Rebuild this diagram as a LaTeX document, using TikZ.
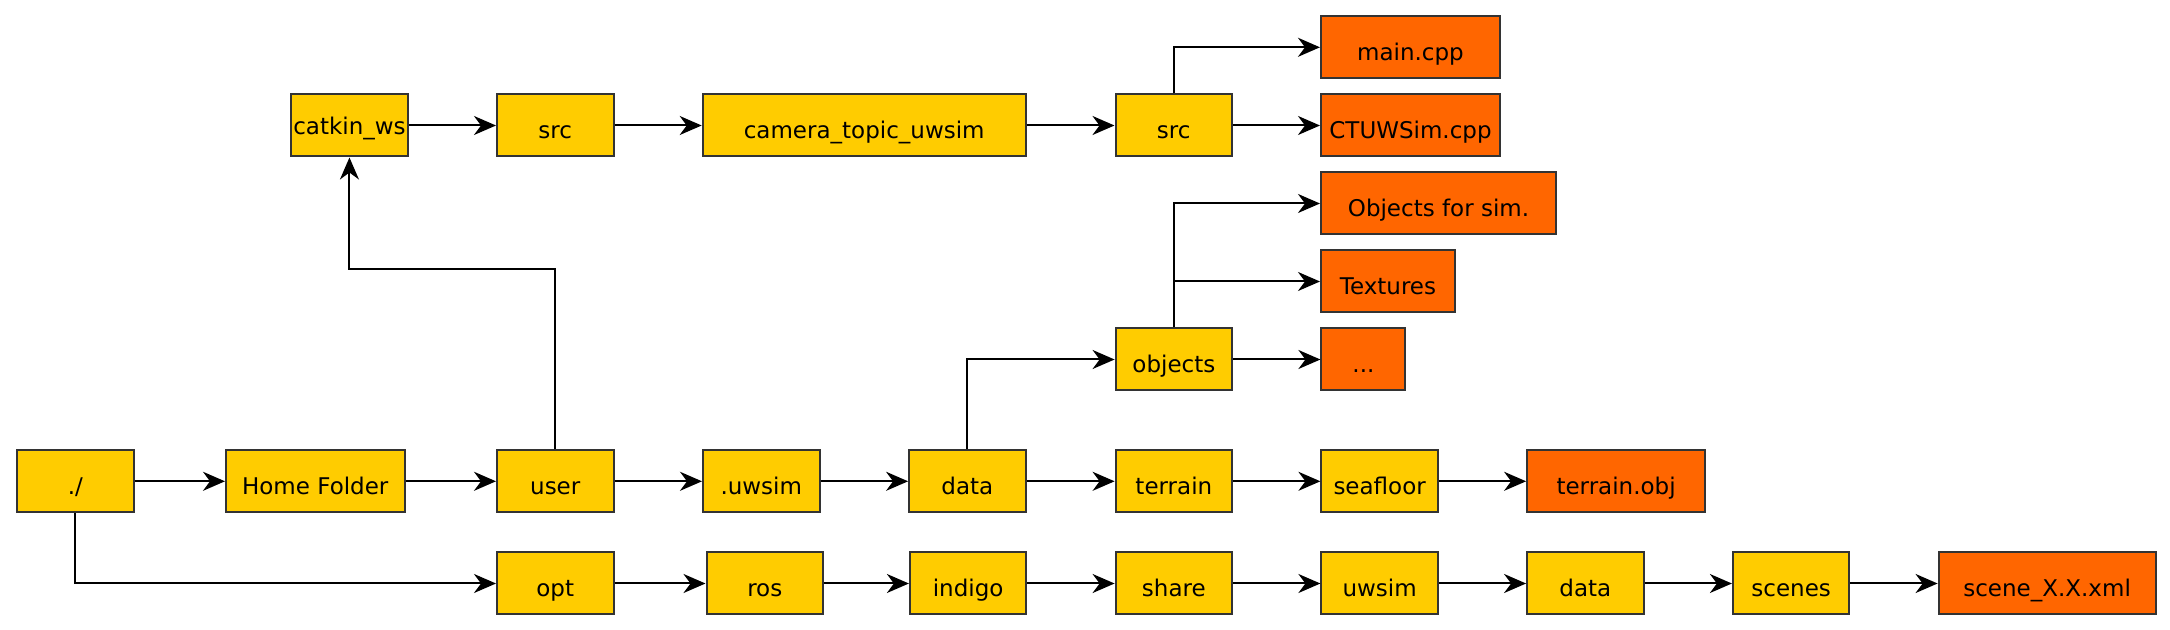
\documentclass[tikz,border=0pt]{standalone}
\usepackage{fontspec}
\setmainfont{DejaVu Sans}
\usetikzlibrary{arrows.meta}

\definecolor{dirfill}{HTML}{FFCC00}
\definecolor{filefill}{HTML}{FF6600}

\begin{document}
\begin{tikzpicture}[x=0.5pt,y=-0.5pt,
    box/.style={draw=black!80,line width=1pt,anchor=west,minimum height=31pt,
      minimum width=58.25pt,inner sep=1pt,text height=13pt,text depth=0pt,
      font=\fontsize{11.5}{13}\selectfont},
    dir/.style={box,fill=dirfill},
    file/.style={box,fill=filefill},
    arr/.style={line width=1pt,-{Stealth[length=11pt,width=9.5pt,inset=3.5pt]}}]
    \useasboundingbox (0,0) rectangle (2170,630);

    % Home folder row
    \node[dir] (root) at (16.1,481.3) {./};
    \node[dir,minimum width=89.25pt] (home) at (225,481.3) {Home Folder};
    \node[dir] (user) at (496,481.3) {user};
    \node[dir] (uwsimdir) at (702,481.3) {.uwsim};
    \node[dir] (datadir) at (908.1,481.3) {data};
    \node[dir] (terrain) at (1114.6,481.3) {terrain};
    \node[dir] (seafloor) at (1320.4,481.3) {seafloor};
    \node[file,minimum width=89pt] (terrainobj) at (1526.1,481.3) {terrain.obj};
    \draw[arr] (root) -- (home);
    \draw[arr] (home) -- (user);
    \draw[arr] (user) -- (uwsimdir);
    \draw[arr] (uwsimdir) -- (datadir);
    \draw[arr] (datadir) -- (terrain);
    \draw[arr] (terrain) -- (seafloor);
    \draw[arr] (seafloor) -- (terrainobj);

    % opt row
    \node[dir] (opt) at (496,583.5) {opt};
    \node[dir] (ros) at (705.5,583.5) {ros};
    \node[dir] (indigo) at (908.9,583.5) {indigo};
    \node[dir] (share) at (1114.6,583.5) {share};
    \node[dir] (uwsimpkg) at (1320.4,583.5) {uwsim};
    \node[dir] (datapkg) at (1526.1,583.5) {data};
    \node[dir] (scenes) at (1731.9,583.5) {scenes};
    \node[file,minimum width=108.5pt] (scenexml) at (1937.6,583.5) {scene\_X.X.xml};
    \draw[arr] (root.south) |- (opt.west);
    \draw[arr] (opt) -- (ros);
    \draw[arr] (ros) -- (indigo);
    \draw[arr] (indigo) -- (share);
    \draw[arr] (share) -- (uwsimpkg);
    \draw[arr] (uwsimpkg) -- (datapkg);
    \draw[arr] (datapkg) -- (scenes);
    \draw[arr] (scenes) -- (scenexml);

    % catkin workspace row
    \node[dir,text height=9pt] (catkin) at (290.2,125.5) {catkin\_ws};
    \node[dir] (srcws) at (496,125.5) {src};
    \node[dir,minimum width=161.5pt] (camtopic) at (701.7,125.5) {camera\_topic\_uwsim};
    \node[dir] (srcpkg) at (1114.5,125.5) {src};
    \node[file,minimum width=89.5pt] (maincpp) at (1320,47.3) {main.cpp};
    \node[file,minimum width=89.5pt] (ctuwsim) at (1320,125.5) {CTUWSim.cpp};
    \draw[arr] (user.north) -- ++(0,-180) -| (catkin.south);
    \draw[arr] (catkin) -- (srcws);
    \draw[arr] (srcws) -- (camtopic);
    \draw[arr] (camtopic) -- (srcpkg);
    \draw[arr] (srcpkg.north) |- (maincpp.west);
    \draw[arr] (srcpkg) -- (ctuwsim);

    % objects
    \node[dir] (objects) at (1114.6,359.5) {objects};
    \node[file,minimum width=117.5pt] (objsim) at (1320,203.5) {Objects for sim.};
    \node[file,minimum width=67pt] (textures) at (1320,281.5) {Textures};
    \node[file,minimum width=42pt] (dots) at (1320.4,359.5) {...};
    \draw[arr] (datadir.north) |- (objects.west);
    \draw[arr] (objects.north) |- (objsim.west);
    \draw[arr] (objects.north) |- (textures.west);
    \draw[arr] (objects) -- (dots);
\end{tikzpicture}
\end{document}
